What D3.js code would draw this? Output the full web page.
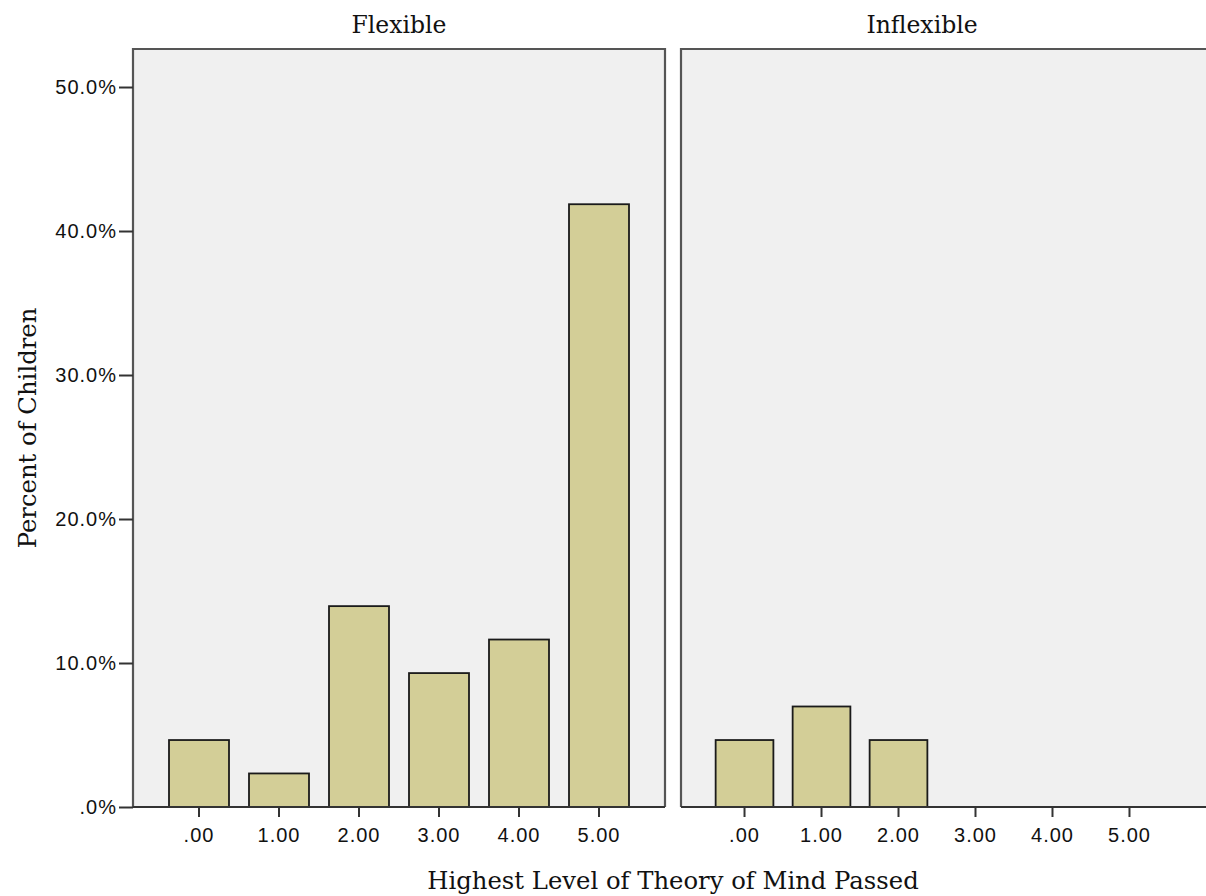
<!DOCTYPE html>
<html>
<head>
<meta charset="utf-8">
<script src="https://cdn.jsdelivr.net/npm/d3@7"></script>
<style>
  html, body { margin: 0; padding: 0; background: #fff; }
  svg { display: block; }
</style>
</head>
<body>
<svg id="chart" width="1206" height="896"></svg>
<script>
// ---- data ----
const categories = [".00", "1.00", "2.00", "3.00", "4.00", "5.00"];
const panels = ["Flexible", "Inflexible"];
const flexibleValues = [4.65, 2.33, 13.95, 9.30, 11.63, 41.86];
const inflexibleValues = [4.65, 6.98, 4.65, 0, 0, 0];
const yTicks = [0, 10, 20, 30, 40, 50];
const xTitle = "Highest Level of Theory of Mind Passed";
const yTitle = "Percent of Children";

// ---- layout ----
const svg = d3.select("#chart");
const plotTop = 49, plotBottom = 807;
const panelDefs = [
  { name: panels[0], values: flexibleValues, x0: 133, x1: 665, bgRight: 665, titleX: 399, closed: true },
  { name: panels[1], values: inflexibleValues, x0: 681, x1: 1193, bgRight: 1220, titleX: 922, closed: false }
];

const y = d3.scaleLinear().domain([0, 52.64]).range([plotBottom, plotTop]);

const fmtY = v => (v === 0 ? ".0%" : d3.format(".1f")(v) + "%");

const serif = "'DejaVu Serif', 'Liberation Serif', serif";
const sans = "'Liberation Sans', Arial, sans-serif";

panelDefs.forEach(p => {
  const g = svg.append("g");
  const x = d3.scaleBand().domain(categories).range([p.x0, p.x1])
    .paddingInner(0.25).paddingOuter(0.45);

  g.append("rect")
    .attr("x", p.x0).attr("y", plotTop)
    .attr("width", p.bgRight - p.x0).attr("height", plotBottom - plotTop)
    .attr("fill", "#f0f0f0");

  g.selectAll("rect.bar").data(p.values.map((v, i) => ({ c: categories[i], v })).filter(d => d.v > 0))
    .enter().append("rect")
    .attr("class", "bar")
    .attr("x", d => x(d.c))
    .attr("y", d => y(d.v))
    .attr("width", x.bandwidth())
    .attr("height", d => y(0) - y(d.v))
    .attr("fill", "#d3ce97")
    .attr("stroke", "#1a1a1a")
    .attr("stroke-width", 1.8);

  const frame = d3.path();
  frame.moveTo(p.x0, plotBottom);
  frame.lineTo(p.x0, plotTop);
  frame.lineTo(p.bgRight, plotTop);
  if (p.closed) frame.lineTo(p.bgRight, plotBottom);
  g.append("path").attr("d", frame.toString())
    .attr("fill", "none").attr("stroke", "#555").attr("stroke-width", 2.2);

  const xAxis = d3.axisBottom(x).tickSize(10).tickPadding(11).tickSizeOuter(0);
  const ax = g.append("g").attr("transform", `translate(0,${plotBottom})`).call(xAxis);
  ax.select(".domain").attr("d", `M${p.x0},0H${p.bgRight}`)
    .attr("stroke", "#333").attr("stroke-width", 2.2);
  ax.selectAll(".tick line").attr("stroke", "#333").attr("stroke-width", 2);
  ax.selectAll(".tick text").attr("font-family", sans).attr("font-size", 20)
    .attr("letter-spacing", 1).attr("fill", "#111");

  svg.append("text").attr("x", p.titleX).attr("y", 33)
    .attr("text-anchor", "middle")
    .attr("font-family", serif).attr("font-size", 23.5).attr("fill", "#111")
    .text(p.name);
});

const yAxis = d3.axisLeft(y).tickValues(yTicks).tickFormat(fmtY).tickSize(14).tickPadding(2);
const ay = svg.append("g").attr("transform", "translate(133,0)").call(yAxis);
ay.select(".domain").remove();
ay.selectAll(".tick line").attr("stroke", "#333").attr("stroke-width", 2);
ay.selectAll(".tick text").attr("font-family", sans).attr("font-size", 20)
  .attr("letter-spacing", 1).attr("fill", "#111");

svg.append("text").attr("x", 673).attr("y", 889)
  .attr("text-anchor", "middle")
  .attr("font-family", serif).attr("font-size", 24.3).attr("fill", "#111")
  .text(xTitle);

svg.append("text")
  .attr("transform", "translate(36,428) rotate(-90)")
  .attr("text-anchor", "middle")
  .attr("font-family", serif).attr("font-size", 24.3).attr("fill", "#111")
  .text(yTitle);
</script>
</body>
</html>
